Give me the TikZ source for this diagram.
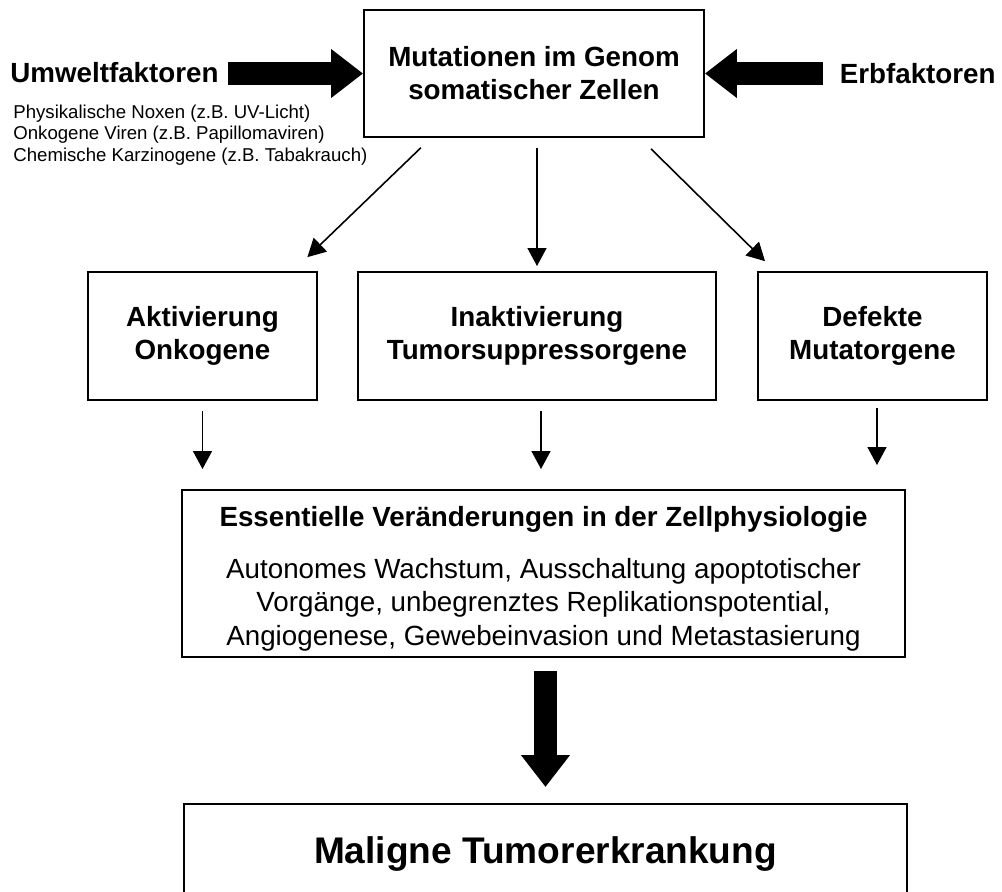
\documentclass[tikz,border=0pt]{standalone}
\usepackage{fontspec}
\setmainfont{Liberation Sans}
\usetikzlibrary{arrows.meta,positioning}

\newcommand\headfont{\fontsize{15.8}{18.8}\selectfont\bfseries}
\newcommand\bodyfont{\fontsize{15.8}{19}\selectfont}
\newcommand\listfont{\fontsize{10.6}{12.2}\selectfont}

\begin{document}
\begin{tikzpicture}[x=0.02cm,y=-0.02cm,
   box/.style={draw,line width=1.14pt,align=center,inner sep=0pt},
   smallarrow/.style={line width=0.9pt,-{Triangle[length=0.36cm,width=0.38cm]}},
   bigarrow/.style={line width=0.45cm,-{Triangle[length=0.64cm,width=0.94cm]}}]
   \useasboundingbox (0,0) rectangle (1002,892);
   \node (genom) [box,font=\headfont,minimum width=6.8cm,minimum height=2.54cm] at (534,73.5) {Mutationen im Genom\\somatischer Zellen};
   \node (umwelt) [anchor=base west,inner sep=0pt,font=\headfont] at (10,83) {Umweltfaktoren};
   \node (erb) [anchor=base east,inner sep=0pt,font=\headfont] at (996,84) {Erbfaktoren};
   \node (noxen) [below=0.42cm of umwelt.south west,anchor=north west,xshift=0.06cm,inner sep=0pt,align=left,font=\listfont] {Physikalische Noxen (z.B. UV-Licht)\\Onkogene Viren (z.B. Papillomaviren)\\Chemische Karzinogene (z.B. Tabakrauch)};
   \node (onko) [box,font=\headfont,minimum width=4.58cm,minimum height=2.56cm] at (202.5,336) {Aktivierung\\Onkogene};
   \node (tsg) [box,font=\headfont,minimum width=7.16cm,minimum height=2.56cm] at (537,336) {Inaktivierung\\Tumorsuppressorgene};
   \node (mutator) [box,font=\headfont,minimum width=4.58cm,minimum height=2.56cm] at (872.5,336) {Defekte\\Mutatorgene};
   \node (essentiell) [box,font=\bodyfont,minimum width=14.46cm,minimum height=3.34cm] at (543.5,573.5) {\rule{0pt}{17.3pt}{\bfseries Essentielle Veränderungen in der Zellphysiologie}\\[10.7pt]Autonomes Wachstum, Ausschaltung apoptotischer\\Vorgänge, unbegrenztes Replikationspotential,\\Angiogenese, Gewebeinvasion und Metastasierung};
   \node (maligne) [box,anchor=north,font=\fontsize{21.1}{24}\selectfont\bfseries,minimum width=14.46cm,text height=1.2cm,text depth=2.2cm] at (545.5,803) {Maligne Tumorerkrankung};
   \coordinate (umweltend) at (228,73.5);
   \coordinate (erbend) at (823,73.5);
   \draw[bigarrow] (umweltend) -- (genom.west);
   \draw[bigarrow] (erbend) -- (genom.east);
   \draw[smallarrow,shorten <=0.28cm,shorten >=0.4cm] ([xshift=-2.06cm]genom.south) -- ([xshift=1.81cm]onko.north);
   \draw[smallarrow,shorten <=0.2cm,shorten >=0.1cm] (tsg.north |- genom.south) -- (tsg.north);
   \draw[smallarrow,shorten <=0.31cm,shorten >=0.28cm] ([xshift=2.12cm]genom.south) -- ([xshift=-1.95cm]mutator.north);
   \foreach \n/\dx/\a/\b in {onko/0/0.2/0.4, tsg/0.08/0.2/0.4, mutator/0.09/0.14/0.48} {
    \draw[smallarrow,shorten <=\a cm,shorten >=\b cm] ([xshift=\dx cm]\n.south) -- ([xshift=\dx cm]\n.south |- essentiell.north);
   }
   \draw[bigarrow,shorten <=0.26cm,shorten >=0.32cm] (maligne.north |- essentiell.south) -- (maligne.north);
\end{tikzpicture}
\end{document}
